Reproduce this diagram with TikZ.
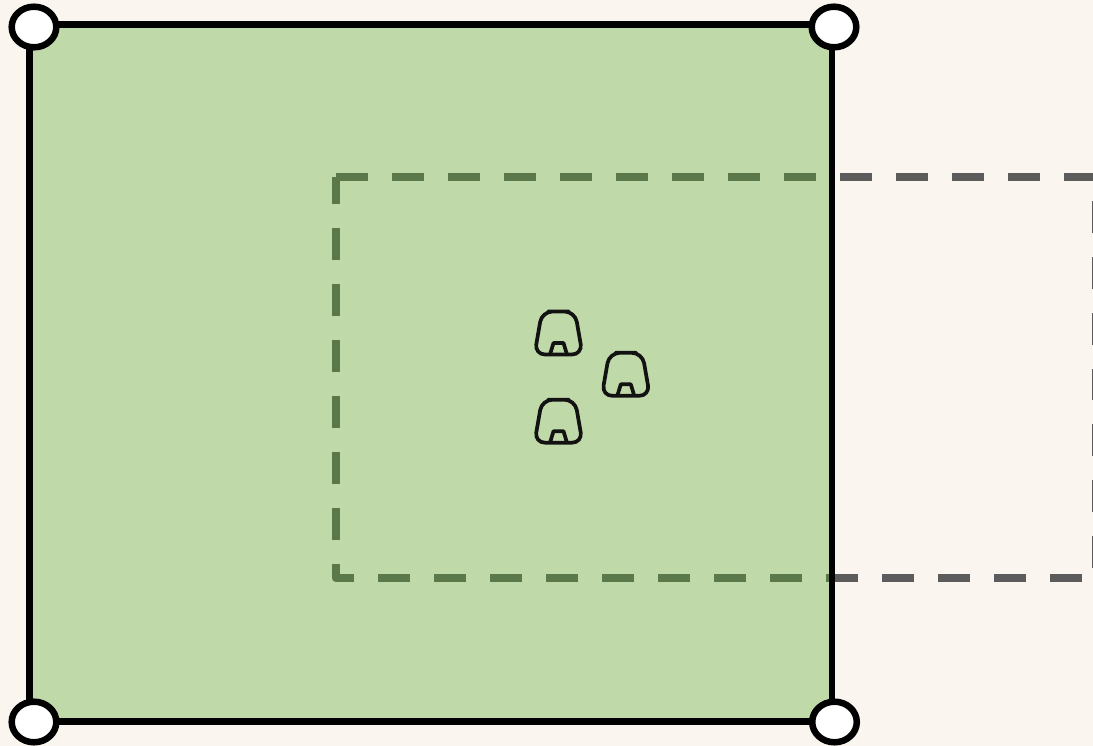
\documentclass[tikz,border=0pt]{standalone}
\definecolor{PaperCream}{HTML}{FBF5EF}
\definecolor{PlotGreen}{RGB}{90,170,47}
\definecolor{ReachGrey}{HTML}{5C5C5C}
\tikzset{
  plotedge/.style={draw=black,line width=.125cm,line join=round},
  cornerring/.style={draw=black,fill=white,line width=.13cm},
  reachline/.style={draw=ReachGrey,line width=.16cm,line join=round,dash pattern=on .64cm off .48cm},
  bollard/.pic={
    \draw[line width=.074cm,draw=black!93,line join=round,rounded corners=.21cm] (0,-21.5)--(16.5,-21.5)--(24,21.5)--(-24,21.5)--(-16.5,-21.5)--cycle;
    \draw[line width=.074cm,draw=black!93,line join=round] (-8.5,21.5)--(-5,10)--(5,10)--(8.5,21.5);
  }
}

\begin{document}
\begin{tikzpicture}[x=.02cm,y=-.02cm]
  \clip (0,0) rectangle (1093,746);
  \fill[PaperCream] (0,0) rectangle (1093,746);
  \coordinate (A) at (29.5,24.5); \coordinate (B) at (832,24.5); \coordinate (C) at (832,721.5); \coordinate (D) at (29.5,721.5);
  \draw[reachline] (336,176.7)--(1096,176.7)--(1096,578.3)--(336,578.3)--(336,176.7);
  \fill[PlotGreen,fill opacity=.36] (A)--(B)--(C)--(D)--cycle;
  \draw[plotedge] (A)--(B)--(C)--(D)--cycle;
  \foreach \cx/\cy in {34/27,834/27,34/722,834.5/722}{
    \draw[cornerring] (\cx,\cy) ellipse [x radius=22.3,y radius=20.3];
  }
  \pic at (558.5,333) {bollard}; \pic at (625.8,374.3) {bollard}; \pic at (558.5,421.2) {bollard};
\end{tikzpicture}
\end{document}
